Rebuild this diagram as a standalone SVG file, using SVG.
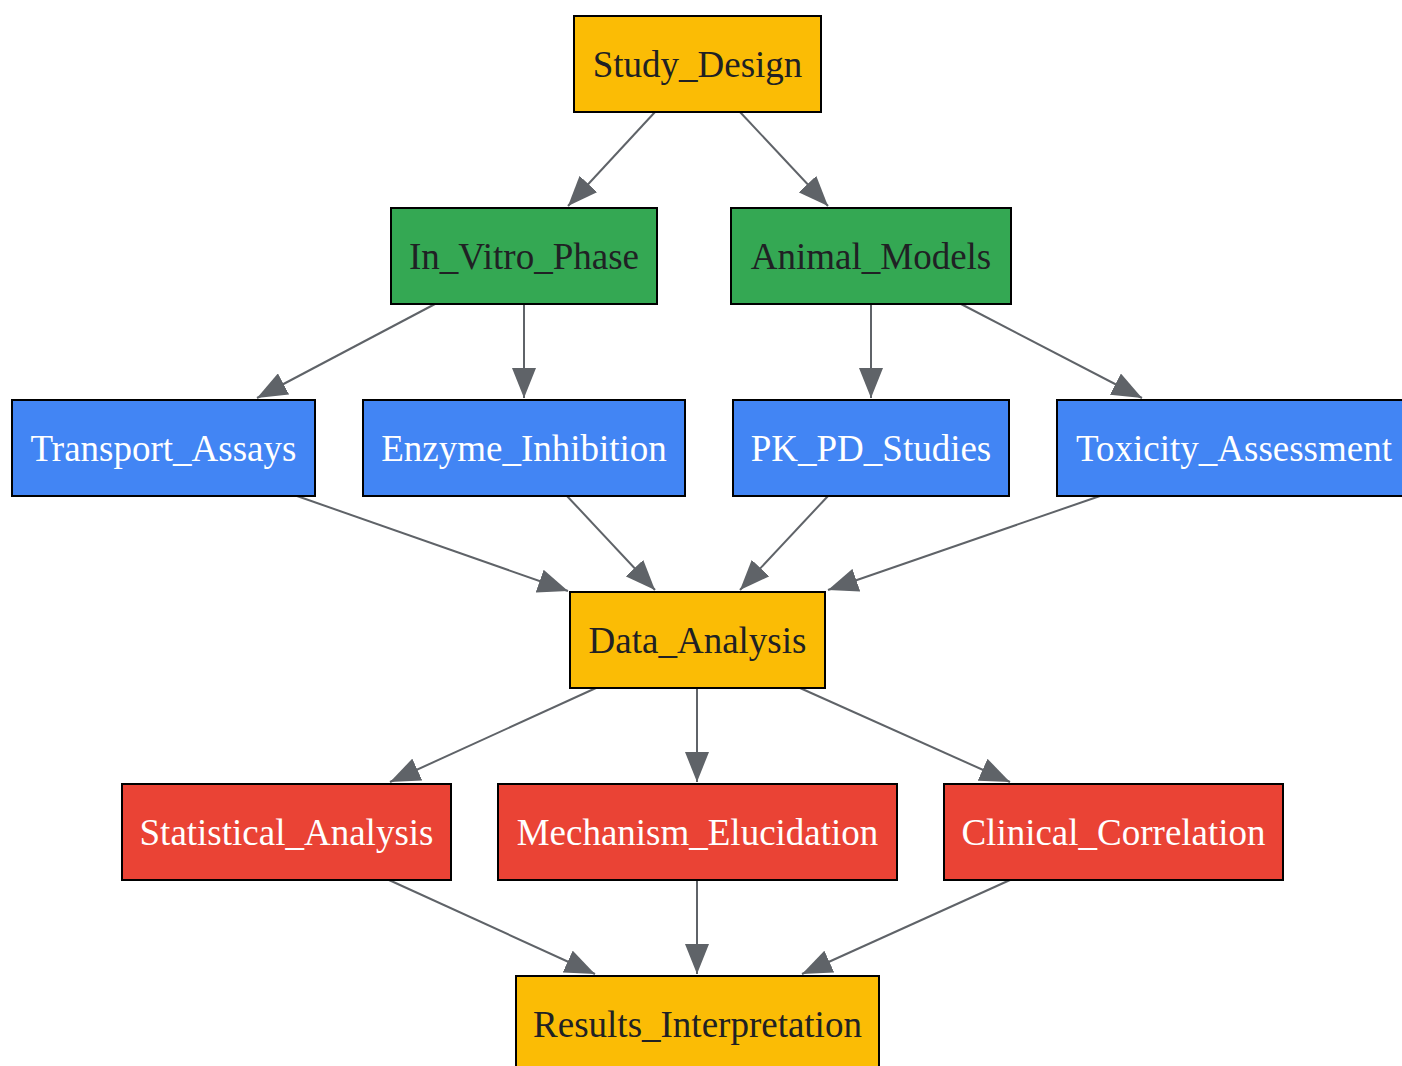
<svg xmlns="http://www.w3.org/2000/svg" width="1402" height="1066" viewBox="0 0 1402 1066">
<style>
.n rect{stroke:#000;stroke-width:2}
.n text{font-family:"Liberation Serif","Times New Roman",serif;font-size:37px;text-anchor:middle}
.y rect{fill:#FBBC05}.g rect{fill:#34A853}.b rect{fill:#4285F4}.r rect{fill:#EA4335}
.y text,.g text{fill:#202124}.b text,.r text{fill:#fff}
#edges path{stroke:#5F6368;stroke-width:2;fill:none;marker-end:url(#ah)}
</style>
<defs>
<marker id="ah" viewBox="0 0 30 24" refX="30" refY="12" markerWidth="30" markerHeight="24" markerUnits="userSpaceOnUse" orient="auto">
<path d="M0,0 L30,12 L0,24 z" fill="#5F6368"/>
</marker>
</defs>
<rect width="1402" height="1066" fill="#fff"/>
<g id="edges">
<path d="M655,112 L568,206"/>
<path d="M740,112 L828,206"/>
<path d="M435,304 L257,398"/>
<path d="M524,304 L524,398"/>
<path d="M871,304 L871,398"/>
<path d="M961,304 L1142,398"/>
<path d="M297,496 L568,591"/>
<path d="M567,496 L655,590"/>
<path d="M828,496 L740,590"/>
<path d="M1100,496 L828,590"/>
<path d="M596,688 L390,782"/>
<path d="M697,688 L697,782"/>
<path d="M800,688 L1010,782"/>
<path d="M389,880 L595,974"/>
<path d="M697,880 L697,974"/>
<path d="M1010,880 L802,974"/>
</g>
<g id="Study_Design" class="n y"><rect x="574" y="16" width="247" height="96"/><text x="697.5" y="77">Study_Design</text></g>
<g id="In_Vitro_Phase" class="n g"><rect x="391" y="208" width="266" height="96"/><text x="524" y="269">In_Vitro_Phase</text></g>
<g id="Animal_Models" class="n g"><rect x="731" y="208" width="280" height="96"/><text x="871" y="269">Animal_Models</text></g>
<g id="Transport_Assays" class="n b"><rect x="12" y="400" width="303" height="96"/><text x="163.5" y="461">Transport_Assays</text></g>
<g id="Enzyme_Inhibition" class="n b"><rect x="363" y="400" width="322" height="96"/><text x="524" y="461">Enzyme_Inhibition</text></g>
<g id="PK_PD_Studies" class="n b"><rect x="733" y="400" width="276" height="96"/><text x="871" y="461">PK_PD_Studies</text></g>
<g id="Toxicity_Assessment" class="n b"><rect x="1057" y="400" width="354" height="96"/><text x="1234" y="461">Toxicity_Assessment</text></g>
<g id="Data_Analysis" class="n y"><rect x="570" y="592" width="255" height="96"/><text x="697.5" y="653">Data_Analysis</text></g>
<g id="Statistical_Analysis" class="n r"><rect x="122" y="784" width="329" height="96"/><text x="286.5" y="845">Statistical_Analysis</text></g>
<g id="Mechanism_Elucidation" class="n r"><rect x="498" y="784" width="399" height="96"/><text x="697.5" y="845">Mechanism_Elucidation</text></g>
<g id="Clinical_Correlation" class="n r"><rect x="944" y="784" width="339" height="96"/><text x="1113.5" y="845">Clinical_Correlation</text></g>
<g id="Results_Interpretation" class="n y"><rect x="516" y="976" width="363" height="96"/><text x="697.5" y="1037">Results_Interpretation</text></g>
</svg>
